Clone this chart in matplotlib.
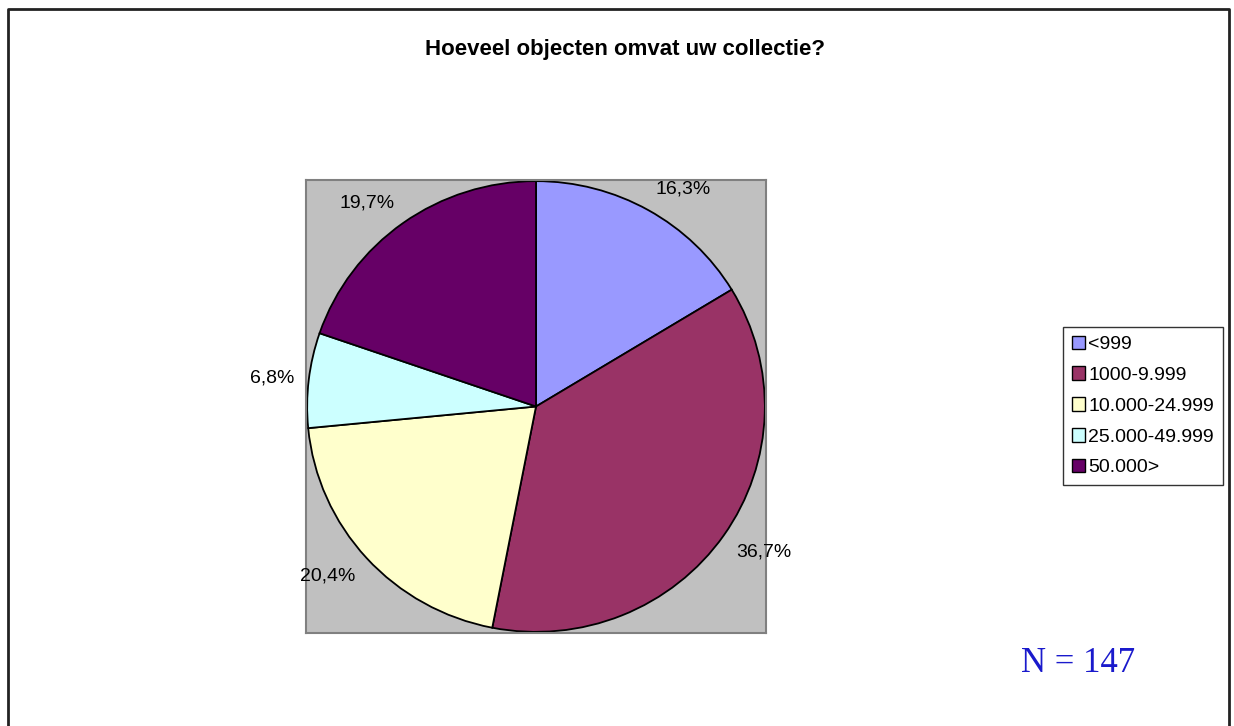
import matplotlib.pyplot as plt
from matplotlib.patches import Patch

plt.rcParams['font.family'] = ['Liberation Sans', 'DejaVu Sans']

categories = ['<999', '1000-9.999', '10.000-24.999', '25.000-49.999', '50.000>']
counts = [24, 54, 30, 10, 29]
colors = ['#9999FF', '#993366', '#FFFFCC', '#CCFFFF', '#660066']

W, H = 1234, 726
fig = plt.figure(figsize=(W / 100, H / 100), dpi=100)

# outer frame (no bottom edge visible in the reference)
fig.add_artist(plt.Line2D([8 / W, 8 / W, 1229 / W, 1229 / W],
                          [0, 1 - 9 / H, 1 - 9 / H, 0],
                          transform=fig.transFigure, color='#222222', lw=2))

ax = fig.add_axes([306 / W, (H - 633) / H, 460 / W, 453 / H])

total = sum(counts)
pct_labels = [f"{100 * c / total:.1f}".replace('.', ',') + '%' for c in counts]

wedges, texts = ax.pie(
    counts, colors=colors, startangle=90, counterclock=False,
    labels=pct_labels, labeldistance=1.065, radius=1.0,
    wedgeprops={'edgecolor': 'black', 'linewidth': 1.3},
    textprops={'fontsize': 14})
ax.set_aspect('auto')
ax.set_xlim(-1.005, 1.005)
ax.set_ylim(-1.005, 1.005)
ax.set_frame_on(True)
ax.set_facecolor('#C0C0C0')
ax.set_xticks([])
ax.set_yticks([])
for s in ax.spines.values():
    s.set_visible(True)
    s.set_color('#808080')
    s.set_linewidth(1.5)
for t in texts:
    t.set_clip_on(False)
    y = t.get_position()[1]
    t.set_va('bottom' if y > 0.5 else ('top' if y < -0.5 else 'center'))

fig.text(625 / W, 1 - 50 / H, 'Hoeveel objecten omvat uw collectie?',
         ha='center', va='center', fontsize=16, fontweight='bold')

handles = [Patch(facecolor=c, edgecolor='black', linewidth=1) for c in colors]
leg = fig.legend(handles, categories, loc='center left',
                 bbox_to_anchor=(1063 / W, 1 - 406 / H), fontsize=14,
                 frameon=True, fancybox=False, edgecolor='black',
                 handlelength=0.7, handleheight=0.7, handletextpad=0.15,
                 labelspacing=0.68, borderpad=0.45, borderaxespad=0)
leg.get_frame().set_linewidth(1)

fig.text(1078 / W, 1 - 663 / H, 'N = 147', ha='center', va='center',
         fontsize=25, color='#1A1ACC', family=['Liberation Serif', 'DejaVu Serif'])

fig.savefig('out.png', dpi=100)
